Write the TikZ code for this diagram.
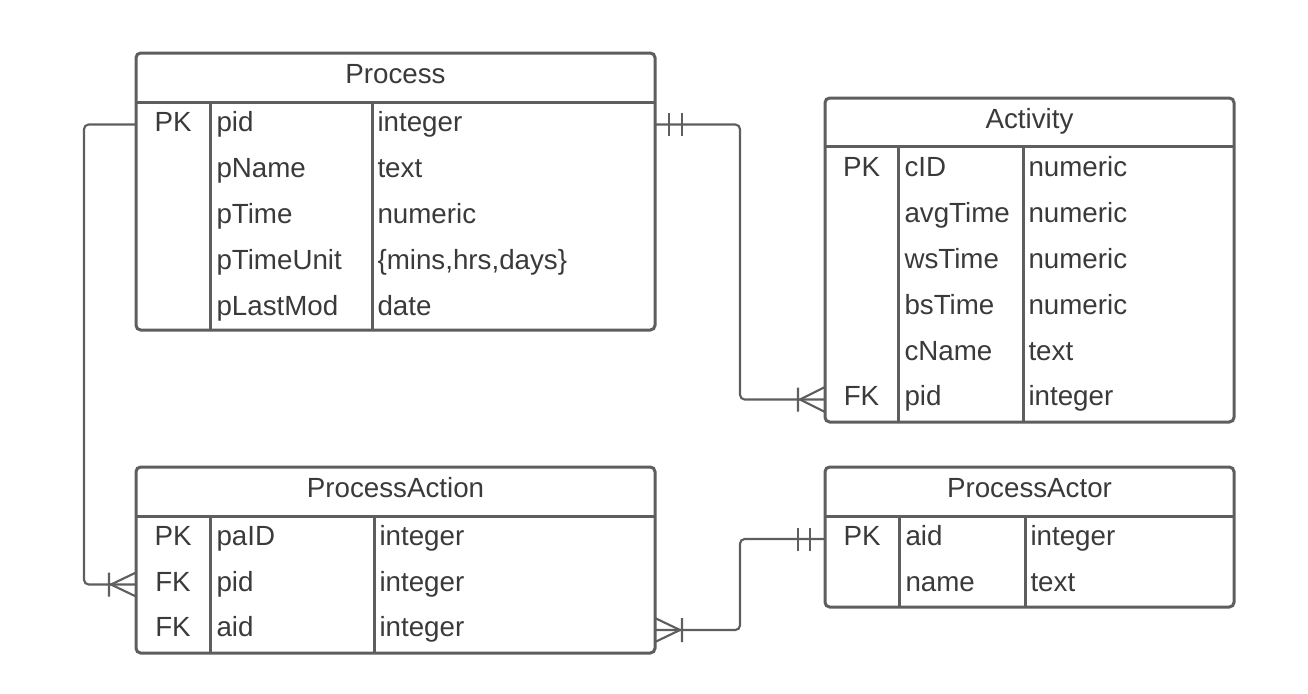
\documentclass[tikz,border=0pt]{standalone}
\usepackage{fontspec}
\setmainfont{Liberation Sans}
\definecolor{erline}{RGB}{94,94,94}
\definecolor{ertext}{RGB}{58,58,58}
\tikzset{every picture/.style={line width=0.75pt}}

\begin{document}
\begin{tikzpicture}[x=0.75pt,y=0.75pt,yscale=-1,xscale=1,
		tbl/.style={draw=erline,line width=2.25pt,rounded corners=3.5pt},
		cell/.style={draw=erline,line width=2.25pt},
		conn/.style={draw=erline,line width=1.6pt,rounded corners=3.5pt},
		tick/.style={draw=erline,line width=1.6pt},
		field/.style={anchor=base west,inner sep=0pt,text=ertext,font=\fontsize{20.8}{25}\selectfont},
		keyfield/.style={anchor=base,inner sep=0pt,text=ertext,font=\fontsize{20.8}{25}\selectfont}]
		\path (0,0) rectangle (1308,693); %set diagram size 1308 x 693
		
		%Shape: Table Process
		\draw [tbl] (136,53) rectangle (655,330) ;
		\draw [cell] (136,102) -- (655,102) ;
		\draw [cell] (210,102) -- (210,330) ;
		\draw [cell] (372,102) -- (372,330) ;
		%Shape: Table Activity
		\draw [tbl] (825,98) rectangle (1234,422) ;
		\draw [cell] (825,146) -- (1234,146) ;
		\draw [cell] (898,146) -- (898,422) ;
		\draw [cell] (1023,146) -- (1023,422) ;
		%Shape: Table ProcessAction
		\draw [tbl] (136,467) rectangle (655,653) ;
		\draw [cell] (136,516) -- (655,516) ;
		\draw [cell] (210,516) -- (210,653) ;
		\draw [cell] (374,516) -- (374,653) ;
		%Shape: Table ProcessActor
		\draw [tbl] (825,467) rectangle (1234,607) ;
		\draw [cell] (825,516) -- (1234,516) ;
		\draw [cell] (899,516) -- (899,607) ;
		\draw [cell] (1025,516) -- (1025,607) ;
		
		%Coordinates: connector ends
		\coordinate (procPidR) at (655,124.5) ;
		\coordinate (procPidL) at (136,124.5) ;
		\coordinate (actPidL) at (825,399.5) ;
		\coordinate (paPidL) at (136,584.5) ;
		\coordinate (paAidR) at (655,630) ;
		\coordinate (actorAidL) at (825,539) ;
		
		%Straight Lines: Process -- Activity
		\draw [conn] (procPidR) -- (740,124.5) -- (740,399.5) -- (actPidL) ;
		\draw [tick] (669,113) -- (669,136) (682,113) -- (682,136) ;
		\draw [tick] (798,387.5) -- (798,411.5) (825,387) -- (800,399.5) -- (825,412) ;
		%Straight Lines: Process -- ProcessAction
		\draw [conn] (procPidL) -- (84,124.5) -- (84,584.5) -- (paPidL) ;
		\draw [tick] (109,572.5) -- (109,596.5) (136,572.5) -- (111,584.5) -- (136,596.5) ;
		%Straight Lines: ProcessActor -- ProcessAction
		\draw [conn] (actorAidL) -- (740,539) -- (740,630) -- (paAidR) ;
		\draw [tick] (798,527.5) -- (798,550.5) (810,527.5) -- (810,550.5) ;
		\draw [tick] (682,618) -- (682,642) (655,618) -- (680,630) -- (655,642) ;
		
		% Text Node: Process
		\draw (395.5,83) node (procHead) [keyfield] {Process};
		\draw (173,131) node (procPK) [keyfield] {PK};
		\draw (216,131) node (procPid) [field] {pid};
		\draw (377,131) node (procPidT) [field] {integer};
		\draw (216,177) node (procName) [field] {pName};
		\draw (377,177) node (procNameT) [field] {text};
		\draw (216,223) node (procTime) [field] {pTime};
		\draw (377,223) node (procTimeT) [field] {numeric};
		\draw (216,269) node (procUnit) [field] {pTimeUnit};
		\draw (377,269) node (procUnitT) [field] {\{mins,hrs,days\}};
		\draw (216,315) node (procMod) [field] {pLastMod};
		\draw (377,315) node (procModT) [field] {date};
		% Text Node: Activity
		\draw (1029.5,128) node (actHead) [keyfield] {Activity};
		\draw (861.5,176) node (actPK) [keyfield] {PK};
		\draw (904,176) node (actCid) [field] {cID};
		\draw (1028,176) node (actCidT) [field] {numeric};
		\draw (904,222) node (actAvg) [field] {avgTime};
		\draw (1028,222) node (actAvgT) [field] {numeric};
		\draw (904,268) node (actWs) [field] {wsTime};
		\draw (1028,268) node (actWsT) [field] {numeric};
		\draw (904,314) node (actBs) [field] {bsTime};
		\draw (1028,314) node (actBsT) [field] {numeric};
		\draw (904,360) node (actName) [field] {cName};
		\draw (1028,360) node (actNameT) [field] {text};
		\draw (861.5,405.5) node (actFK) [keyfield] {FK};
		\draw (904,405.5) node (actPid) [field] {pid};
		\draw (1028,405.5) node (actPidT) [field] {integer};
		% Text Node: ProcessAction
		\draw (395.5,497) node (paHead) [keyfield] {ProcessAction};
		\draw (173,545) node (paPK) [keyfield] {PK};
		\draw (216,545) node (paId) [field] {paID};
		\draw (379,545) node (paIdT) [field] {integer};
		\draw (173,591) node (paFK1) [keyfield] {FK};
		\draw (216,591) node (paPid) [field] {pid};
		\draw (379,591) node (paPidT) [field] {integer};
		\draw (173,636.5) node (paFK2) [keyfield] {FK};
		\draw (216,636.5) node (paAid) [field] {aid};
		\draw (379,636.5) node (paAidT) [field] {integer};
		% Text Node: ProcessActor
		\draw (1029.5,497) node (actorHead) [keyfield] {ProcessActor};
		\draw (862,545) node (actorPK) [keyfield] {PK};
		\draw (905,545) node (actorAid) [field] {aid};
		\draw (1030,545) node (actorAidT) [field] {integer};
		\draw (905,591) node (actorName) [field] {name};
		\draw (1030,591) node (actorNameT) [field] {text};
	\end{tikzpicture}
\end{document}
